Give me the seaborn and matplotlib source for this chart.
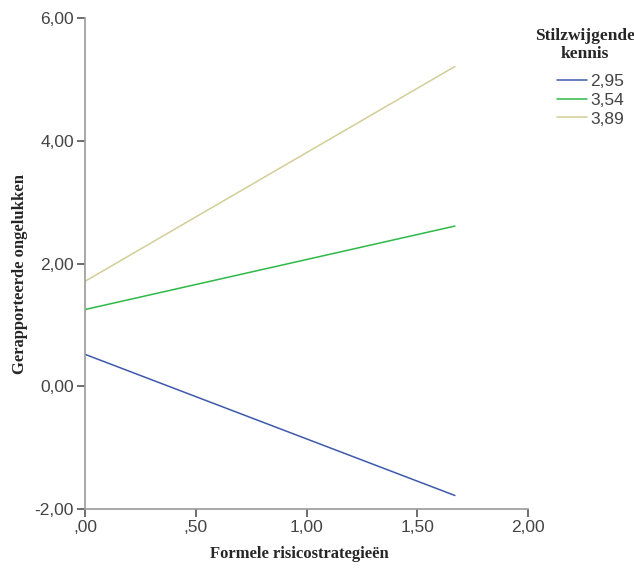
import matplotlib
matplotlib.use("Agg")
import matplotlib.pyplot as plt
import seaborn as sns
import pandas as pd

# predicted values at low/high formele risicostrategieen
x_vals = [0.0, 1.67]
groups = ["2,95", "3,54", "3,89"]
y_295 = [0.52, -1.78]
y_354 = [1.25, 2.61]
y_389 = [1.71, 5.21]
colors = ["#3E58AC", "#2EB848", "#D3CE97"]

x_ticks = [0, 0.5, 1.0, 1.5, 2.0]
x_ticklabels = [",00", ",50", "1,00", "1,50", "2,00"]
y_ticks = [-2, 0, 2, 4, 6]
y_ticklabels = ["-2,00", "0,00", "2,00", "4,00", "6,00"]

df = pd.DataFrame({
    "x": x_vals * 3,
    "y": y_295 + y_354 + y_389,
    "groep": [g for g in groups for _ in x_vals],
})

sns.set_style("white")
serif = ['Liberation Serif', 'DejaVu Serif']
sans = ['Liberation Sans', 'DejaVu Sans']
plt.rcParams['font.family'] = serif

fig = plt.figure(figsize=(6.34, 5.70), dpi=100)
ax = fig.add_axes([85 / 634, 1 - 509 / 570, 443 / 634, 491 / 570])

sns.lineplot(data=df, x="x", y="y", hue="groep", palette=colors, ax=ax,
             linewidth=1.1, legend=False)

ax.set_xlim(0, 2)
ax.set_ylim(-2, 6)
ax.set_xticks(x_ticks)
ax.set_xticklabels(x_ticklabels, family=sans)
ax.set_yticks(y_ticks)
ax.set_yticklabels(y_ticklabels, family=sans)
ax.tick_params(direction="out", length=6, width=1.2, color="#555555",
               labelsize=12.5, labelcolor="#444444", bottom=True, left=True, pad=2)

for side in ["top", "right"]:
    ax.spines[side].set_visible(False)
for side in ["left", "bottom"]:
    ax.spines[side].set_color("#999999")
    ax.spines[side].set_linewidth(1.2)

ax.set_xlabel("Formele risicostrategieën", fontsize=12, fontweight="bold")
ax.set_ylabel("Gerapporteerde ongelukken", fontsize=12, fontweight="bold")
ax.xaxis.set_label_coords(0.485, -0.076)
ax.yaxis.set_label_coords(-0.129, 0.479)

# legend: title as separate text, then the entries
fig.text(585 / 634, 1 - 28 / 570, "Stilzwijgende\nkennis", ha="center", va="top",
         fontsize=12.5, fontweight="bold", multialignment="center", linespacing=1.15)
handles = [plt.Line2D([0], [0], color=c, linewidth=1.1) for c in colors]
leg = fig.legend(handles, groups, loc="upper left",
                 bbox_to_anchor=(545 / 634, 1 - 62 / 570),
                 frameon=False, prop={"family": sans, "size": 12.5}, handlelength=1.7,
                 handletextpad=0.2, labelspacing=0.2, borderpad=0.2)
for t in leg.get_texts():
    t.set_color("#444444")

fig.savefig("out.png", dpi=100)
